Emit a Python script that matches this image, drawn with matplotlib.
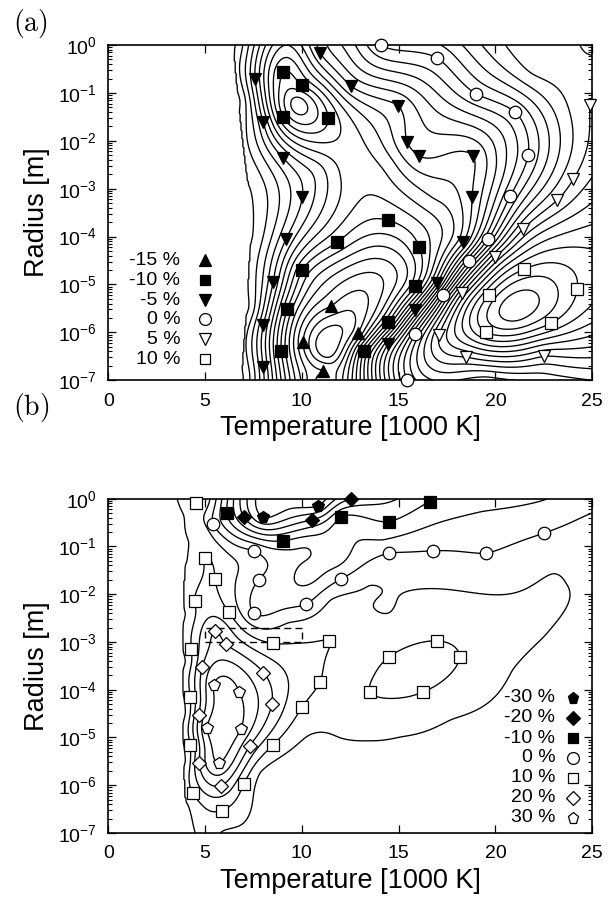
import numpy as np
import matplotlib
matplotlib.use('Agg')
import matplotlib.pyplot as plt
from matplotlib.ticker import LogLocator, NullFormatter

plt.rcParams['font.family'] = ['Liberation Sans', 'DejaVu Sans']
plt.rcParams['mathtext.fontset'] = 'custom'
plt.rcParams['mathtext.rm'] = 'Liberation Sans'
plt.rcParams['mathtext.it'] = 'Liberation Sans:italic'

# ---------------- panel (a): labelled contour points (T [1000 K], log10 r) ----------------
a_m15_T = [11.52, 12.90, 11.10, 10.07]
a_m15_L = [-5.45, -6.02, -6.81, -6.20]
a_m10_T = [9.04, 10.02, 9.04, 11.36, 10.02, 9.25, 8.94, 14.46, 11.83, 16.06, 15.86, 14.46, 13.22]
a_m10_L = [-0.56, -0.84, -1.50, -1.53, -4.70, -5.52, -6.39, -3.66, -4.12, -4.22, -5.04, -5.79, -6.39]
a_m5_T = [7.59, 8.01, 9.04, 10.02, 10.95, 12.55, 14.98, 15.44, 16.06, 18.85, 18.80, 9.19, 8.52, 8.01, 8.01, 18.34, 16.99, 15.86, 14.46]
a_m5_L = [-0.71, -1.61, -2.36, -3.18, -0.17, -0.86, -1.27, -2.03, -2.32, -2.32, -3.18, -4.05, -4.95, -5.85, -6.73, -4.12, -4.97, -5.54, -6.25]
a_z0_T = [14.10, 16.99, 19.01, 21.02, 21.69, 20.76, 19.63, 18.65, 17.30, 15.86, 15.44]
a_z0_L = [0.00, -0.27, -1.02, -1.40, -2.30, -3.16, -4.05, -4.51, -5.22, -6.04, -7.00]
a_p5_T = [24.90, 24.03, 23.19, 21.43, 19.99, 18.28, 17.09, 18.49, 22.52]
a_p5_L = [-1.25, -2.80, -3.24, -3.84, -4.43, -5.18, -6.06, -6.52, -6.50]
a_p10_T = [21.49, 24.22, 19.68, 22.88, 19.52]
a_p10_L = [-4.68, -5.10, -5.22, -5.81, -6.00]
# leftmost (-1 %) contour of panel (a)
a_edge_T = [6.56, 6.80, 7.33, 7.45, 7.25, 6.97]
a_edge_L = [0.0, -1.15, -3.0, -4.0, -5.5, -7.0]
# extra read-off values of the surface (unmarked contours, extrema)
a_ext_T = [0, 0, 0, 0, 0, 3, 3, 3, 3, 3, 5.3, 5.3, 5.3, 5.3, 5.3,
           9.8, 11.3, 11.2, 12.5, 14.5, 16.8, 10.8, 21.0, 19.5, 23.0, 25.0, 9.2,
           12.45, 17.0, 20.3, 19.3, 22.0, 25.0]
a_ext_L = [0, -1.75, -3.5, -5.25, -7, 0, -1.75, -3.5, -5.25, -7, 0, -1.75, -3.5, -5.25, -7,
           -1.2, -6.45, -7.0, -2.7, -2.5, -3.2, -2.6, -5.6, -7.0, -7.0, -7.0, 0.0,
           0.0, -1.2, -2.3, 0.0, -0.5, 0.0]
a_ext_V = [-0.3] * 15 + [-12.5, -17.5, -15.8, -8.5, -7.5, -7.0, -6.5, 12.6, 1.5, 2.5, 3.0, -8.0,
                         -2.5, -2.5, -2.5, 3.0, 4.3, 3.8]

# ---------------- panel (b) ----------------
b_m30_T = [8.02, 10.86]
b_m30_L = [-0.39, -0.15]
b_m20_T = [7.02, 10.52, 12.53]
b_m20_L = [-0.39, -0.44, 0.00]
b_m10_T = [6.13, 9.02, 12.02, 14.48, 16.60]
b_m10_L = [-0.30, -0.88, -0.38, -0.48, -0.06]
b_z0_T = [5.41, 7.54, 7.77, 7.51, 10.21, 12.02, 14.48, 16.80, 19.51, 22.52]
b_z0_L = [-0.53, -1.09, -1.70, -2.40, -2.21, -1.68, -1.14, -1.09, -1.14, -0.72]
b_p10_T = [4.53, 5.01, 5.53, 4.46, 6.22, 4.29, 8.51, 11.42, 10.95, 4.24, 10.00, 4.24, 8.51, 6.99,
           4.36, 5.87, 16.98, 14.51, 18.15, 13.53, 16.25]
b_p10_L = [-0.09, -1.24, -1.68, -2.15, -2.38, -3.15, -3.03, -2.99, -3.83, -4.16, -4.37, -5.16, -5.16,
           -5.98, -6.17, -6.53, -2.98, -3.31, -3.31, -4.05, -4.05]
b_p20_T = [5.53, 6.08, 4.84, 8.02, 8.45, 4.67, 7.30, 4.70, 5.82]
b_p20_L = [-2.78, -3.05, -3.53, -3.64, -4.30, -4.53, -5.18, -5.54, -6.01]
b_p30_T = [5.44, 6.76, 5.10, 6.85, 5.70]
b_p30_L = [-3.91, -4.04, -4.81, -4.83, -5.53]
# leftmost (5 %) contour of panel (b)
b_edge_T = [3.55, 3.89, 4.15, 4.06, 3.98, 3.98, 3.98, 3.98, 4.10, 4.49]
b_edge_L = [0.0, -0.34, -0.9, -1.31, -2.4, -3.41, -4.5, -5.5, -6.4, -7.0]
# unmarked 5 % contour around the central plateau
b_five_T = [5.79, 7.85, 10.26, 12.0, 13.4, 15.1, 17.7, 20.9, 23.6, 23.0, 22.5, 14.5, 13.7, 13.5, 11.5,
            9.3, 6.85, 6.6, 6.2, 4.95]
b_five_L = [-7.0, -5.74, -4.98, -5.01, -5.07, -4.99, -4.63, -3.58, -1.74, -1.57, -2.89, -2.39, -2.26,
            -1.82, -2.12, -2.6, -2.4, -1.7, -1.15, -0.35]
b_ext_T = [0, 0, 0, 0, 0, 2.5, 2.5, 2.5, 2.5, 2.5,
           9.3, 10.3, 11.8, 9.0, 10.2, 19.3, 22.7, 14.2,
           25.0, 25.0, 25.0, 25.0, 20.0, 12.0, 8.5, 9.5, 7.0,
           6.0, 15.8, 12.3, 4.7, 4.8, 5.1]
b_ext_L = [0, -1.75, -3.5, -5.25, -7, 0, -1.75, -3.5, -5.25, -7,
           -0.05, -1.55, -1.2, -1.25, -1.1, -0.27, 0.0, -0.86,
           -0.3, -3.0, -6.0, -7.0, -7.0, -7.0, -7.0, -6.2, -7.0,
           -4.7, -3.6, -3.5, 0.0, -0.7, -7.0]
b_ext_V = [2.0] * 10 + [-33, -7, -7.5, -2.5, -4.3, -5, -5, -5] + \
          [0, 3.5, 3.0, 2.5, 3.5, 3.5, 3.5, 3.8, 4.3] + [33, 12, 8, 11, 8.5, 7.5]

# dashed box of panel (b): T range and radius range
box_T = [5, 10]
box_R = [1e-3, 2e-3]


def surface(groups, Tg, Lg, scale=2.47):
    T = np.concatenate([np.asarray(g[0], float) for g in groups])
    L = np.concatenate([np.asarray(g[1], float) for g in groups])
    V = np.concatenate([np.full(len(g[0]), g[2], float) if np.isscalar(g[2]) else np.asarray(g[2], float)
                        for g in groups])
    u = T / scale
    v = L
    n = len(u)
    d2 = (u[:, None] - u[None, :]) ** 2 + (v[:, None] - v[None, :]) ** 2
    with np.errstate(divide='ignore', invalid='ignore'):
        K = np.where(d2 > 0, 0.5 * d2 * np.log(d2), 0.0)
    P = np.column_stack([np.ones(n), u, v])
    A = np.zeros((n + 3, n + 3))
    A[:n, :n] = K + 1e-4 * np.eye(n)
    A[:n, n:] = P
    A[n:, :n] = P.T
    sol = np.linalg.solve(A, np.concatenate([V, np.zeros(3)]))
    w, c = sol[:n], sol[n:]
    ug = Tg / scale
    out = c[0] + c[1] * ug + c[2] * Lg
    for i in range(n):
        dd = (ug - u[i]) ** 2 + (Lg - v[i]) ** 2
        with np.errstate(divide='ignore', invalid='ignore'):
            out += w[i] * np.where(dd > 0, 0.5 * dd * np.log(dd), 0.0)
    return out


Tg, Lg = np.meshgrid(np.linspace(0, 25, 501), np.linspace(-7, 0, 281))

Fa = surface([(a_m15_T, a_m15_L, -15), (a_m10_T, a_m10_L, -10), (a_m5_T, a_m5_L, -5),
              (a_z0_T, a_z0_L, 0), (a_p5_T, a_p5_L, 5), (a_p10_T, a_p10_L, 10),
              (a_edge_T, a_edge_L, -1), (a_ext_T, a_ext_L, a_ext_V)], Tg, Lg)
bound_a = np.interp(Lg, a_edge_L[::-1], a_edge_T[::-1]) - 0.08
Fa = np.where(Tg < bound_a, np.clip(Fa, -0.9, -0.1), Fa)
Fa = np.where(Tg < 8.5, np.minimum(Fa, -0.1), Fa)

Fb = surface([(b_m30_T, b_m30_L, -30), (b_m20_T, b_m20_L, -20), (b_m10_T, b_m10_L, -10),
              (b_z0_T, b_z0_L, 0), (b_p10_T, b_p10_L, 10), (b_p20_T, b_p20_L, 20),
              (b_p30_T, b_p30_L, 30), (b_edge_T, b_edge_L, 5), (b_five_T, b_five_L, 5),
              (b_ext_T, b_ext_L, b_ext_V)], Tg, Lg)
bound_b = np.interp(Lg, b_edge_L[::-1], b_edge_T[::-1]) - 0.08
Fb = np.where(Tg < bound_b, np.clip(Fb, 0.5, 4.7), Fb)

fig = plt.figure(figsize=(6.08, 9.01), dpi=100)
axa = fig.add_axes([0.178, 0.578, 0.796, 0.372])
axb = fig.add_axes([0.178, 0.0755, 0.796, 0.371])

Rg = 10.0 ** Lg
axa.contour(Tg, Rg, Fa, levels=np.arange(-17, 14, 1), colors='k', linewidths=0.95,
            linestyles='solid', zorder=2)
axb.contour(Tg, Rg, Fb, levels=np.arange(-35, 40, 5), colors='k', linewidths=0.95,
            linestyles='solid', zorder=2)

ms = 8.5
a_series = [
    ('-15 %', a_m15_T, a_m15_L, '^', 'k', ms),
    ('-10 %', a_m10_T, a_m10_L, 's', 'k', ms - 0.5),
    ('-5 %', a_m5_T, a_m5_L, 'v', 'k', ms),
    ('0 %', a_z0_T, a_z0_L, 'o', 'w', ms + 0.5),
    ('5 %', a_p5_T, a_p5_L, 'v', 'w', ms),
    ('10 %', a_p10_T, a_p10_L, 's', 'w', ms - 0.5),
]
b_series = [
    ('-30 %', b_m30_T, b_m30_L, 'p', 'k', ms),
    ('-20 %', b_m20_T, b_m20_L, 'D', 'k', ms - 1.5),
    ('-10 %', b_m10_T, b_m10_L, 's', 'k', ms - 0.5),
    ('0 %', b_z0_T, b_z0_L, 'o', 'w', ms + 0.5),
    ('10 %', b_p10_T, b_p10_L, 's', 'w', ms - 0.5),
    ('20 %', b_p20_T, b_p20_L, 'D', 'w', ms - 1.5),
    ('30 %', b_p30_T, b_p30_L, 'p', 'w', ms),
]


def draw(ax, series, tx, mx, rows):
    for (lab, T, L, mk, fc, s), ry in zip(series, rows):
        ax.plot(T, 10.0 ** np.asarray(L), ls='none', marker=mk, ms=s, mfc=fc, mec='k',
                mew=0.9, zorder=5, clip_on=False)
        ax.text(tx, ry, lab, transform=ax.transAxes, ha='right', va='center', fontsize=14)
        ax.plot([mx], [ry], transform=ax.transAxes, ls='none', marker=mk, ms=s * 0.95,
                mfc=fc, mec='k', mew=0.9, zorder=5, clip_on=False)


draw(axa, a_series, 0.149, 0.200, [0.358, 0.299, 0.239, 0.182, 0.122, 0.063])
draw(axb, b_series, 0.924, 0.961, [0.404, 0.344, 0.284, 0.225, 0.165, 0.105, 0.045])

for ax in (axa, axb):
    ax.set_xlim(0, 25)
    ax.set_yscale('log')
    ax.set_ylim(1e-7, 1)
    ax.set_xticks([0, 5, 10, 15, 20, 25])
    ax.set_yticks([10.0 ** k for k in range(-7, 1)])
    ax.set_yticklabels([r'$10^{%d}$' % k for k in range(-7, 1)])
    ax.yaxis.set_minor_locator(LogLocator(base=10, subs=np.arange(2, 10), numticks=20))
    ax.yaxis.set_minor_formatter(NullFormatter())
    ax.tick_params(which='both', direction='in', top=True, right=True, labelsize=14)
    ax.tick_params(which='major', length=6, width=0.9)
    ax.tick_params(which='minor', length=3, width=0.8)
    ax.tick_params(axis='x', pad=9)
    ax.tick_params(axis='y', pad=8)
    for s in ax.spines.values():
        s.set_linewidth(1.2)
    ax.set_xlabel('Temperature [1000 K]', fontsize=19.5, labelpad=4)
    ax.set_ylabel('Radius [m]', fontsize=19.5, labelpad=6)

axb.plot([box_T[0], box_T[1], box_T[1], box_T[0], box_T[0]],
         [box_R[0], box_R[0], box_R[1], box_R[1], box_R[0]],
         ls=(0, (5, 3)), color='k', lw=1.0, zorder=3)

fig.text(0.021, 0.974, r'$\mathrm{(a)}$', math_fontfamily='cm', fontsize=20, ha='left', va='center')
fig.text(0.021, 0.548, r'$\mathrm{(b)}$', math_fontfamily='cm', fontsize=20, ha='left', va='center')

fig.savefig('out.png', dpi=100)
